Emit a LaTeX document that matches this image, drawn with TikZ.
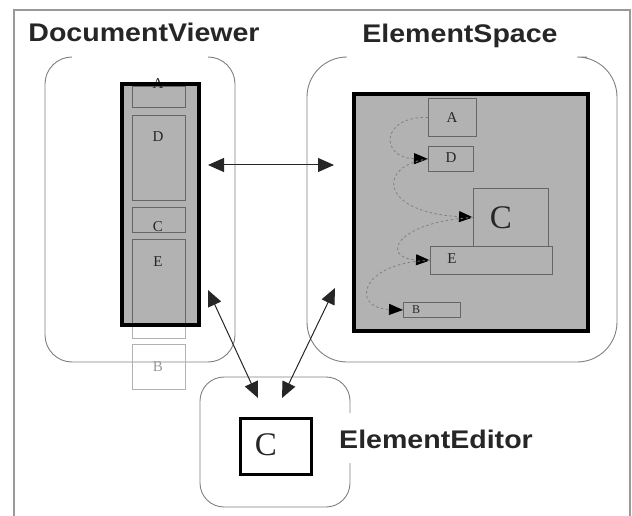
\documentclass[tikz,border=0pt]{standalone}
\usepackage{fontspec}
\usepackage{xcolor}
\usepackage{tikz}
\usetikzlibrary{arrows.meta}
\newfontfamily\helv[FakeStretch=1.12]{Liberation Sans}
\newfontfamily\tms{Liberation Serif}

\begin{document}
\begin{tikzpicture}[x=1pt,y=-1pt,
	title/.style={font=\helv\bfseries\fontsize{25.5}{28}\selectfont, text=black!85, anchor=base, inner sep=0pt},
	letter/.style={font=\tms\fontsize{15}{16}\selectfont, text=black!85, inner sep=0pt},
	bigletter/.style={font=\tms\fontsize{33}{34}\selectfont, text=black!85, inner sep=0pt},
	pane/.style={draw=black!50, line width=0.9pt, rounded corners=#1},
	port/.style={fill=black!30, line width=4pt, anchor=north west, inner sep=0pt},
	sub/.style={draw=black!60, line width=0.9pt, anchor=north west, inner sep=0pt},
	ghost/.style={draw=black!30, line width=0.8pt, anchor=north west, inner sep=0pt},
	link/.style={{Triangle[length=16pt,width=14pt]}-{Triangle[length=16pt,width=14pt]}, line width=1pt, black!85},
	hop/.style={-{Triangle[length=14pt,width=11pt,color=black]}, draw=black!50, dash pattern=on 2.5pt off 2.5pt, line width=0.8pt}]
				\useasboundingbox (0,0) rectangle (632,516);

				\draw[black!40, line width=1.5pt] (14,516) -- (14,10) -- (630,10) -- (630,516);

				\node[title] (dvTitle) at (144,42) {DocumentViewer};
				\node[title] (esTitle) at (460,43) {ElementSpace};
				\node[title] (eeTitle) at (436,448) {ElementEditor};

				\draw[pane=27] (70,57) -- (45,57) -- (45,362) -- (235,362) -- (235,57) -- (210,57);
				\draw[pane=40] (347,57) -- (307,57) -- (307,362) -- (617,362) -- (617,57) -- (587,57);
				\draw[pane=24] (350,413) -- (350,377) -- (200,377) -- (200,507) -- (350,507) -- (350,463);

				\node[ghost, minimum width=53pt, minimum height=21pt] (vA) at (132,86) {};
				\node[ghost, minimum width=53pt, minimum height=85pt] (vD) at (132,115) {};
				\node[ghost, minimum width=53pt, minimum height=25pt] (vC) at (132,207) {};
				\node[ghost, minimum width=53pt, minimum height=99pt] (vE) at (132,239) {};
				\node[ghost, minimum width=53pt, minimum height=45pt] (vB) at (132,344) {};

				\node[port, minimum width=73pt, minimum height=237pt] (viewport) at (122,84) {};
				\begin{scope}
					\clip (viewport.north west) rectangle (viewport.south east);
					\foreach \b in {vA,vD,vC,vE}
						\draw[black!60, line width=0.9pt] (\b.north west) rectangle (\b.south east);
				\end{scope}

				\node[letter] (vAl) at (158,84) {A};
				\node[letter] (vDl) at (158,137) {D};
				\node[letter] (vCl) at (158,227) {C};
				\node[letter] (vEl) at (158,262) {E};
				\node[letter, text=black!40] (vBl) at (158,367) {B};
				\draw[line width=4pt] (viewport.north west) rectangle (viewport.south east);

				\node[port, draw=black, minimum width=234pt, minimum height=237pt] (space) at (352,92) {};
				\node[sub, minimum width=48pt, minimum height=38pt] (sA) at (428,98) {};
				\node[sub, minimum width=45pt, minimum height=25pt] (sD) at (428,146) {};
				\node[sub, minimum width=75pt, minimum height=58pt] (sC) at (473,188) {};
				\node[sub, fill=black!30, minimum width=122pt, minimum height=28pt] (sE) at (430,246) {};
				\node[sub, minimum width=57pt, minimum height=15pt] (sB) at (403,302) {};

				\node[letter] (sAl) at (452,118) {A};
				\node[letter] (sDl) at (451,158) {D};
				\node[bigletter] (sCl) at (501,218) {C};
				\node[letter] (sEl) at (452,259) {E};
				\node[letter, font=\tms\fontsize{12}{13}\selectfont] (sBl) at (416,310) {B};

				\draw[hop] (sA.west) .. controls (380,116) and (380,158) .. (sD.west);
				\draw[hop] (sD.west) .. controls (378,165) and (378,212) .. (sC.west);
				\draw[hop] (sC.west) .. controls (395,222) and (380,258) .. (sE.west);
				\draw[hop] (sE.west) .. controls (360,262) and (350,308) .. (sB.west);

				\node[port, fill=white, draw=black, line width=3.5pt, minimum width=71pt, minimum height=56pt] (edC) at (238.5,416.5) {};
				\node[bigletter] (edCl) at (266,445) {C};

				\coordinate (vRight) at (208,165);
				\coordinate (sLeft) at (334,165);
				\coordinate (vLow) at (208,290);
				\coordinate (sLow) at (335,288);
				\coordinate (eLeft) at (258,398);
				\coordinate (eRight) at (282,398);
				\draw[link] (vRight) -- (sLeft);
				\draw[link] (vLow) -- (eLeft);
				\draw[link] (sLow) -- (eRight);
			\end{tikzpicture}
\end{document}
